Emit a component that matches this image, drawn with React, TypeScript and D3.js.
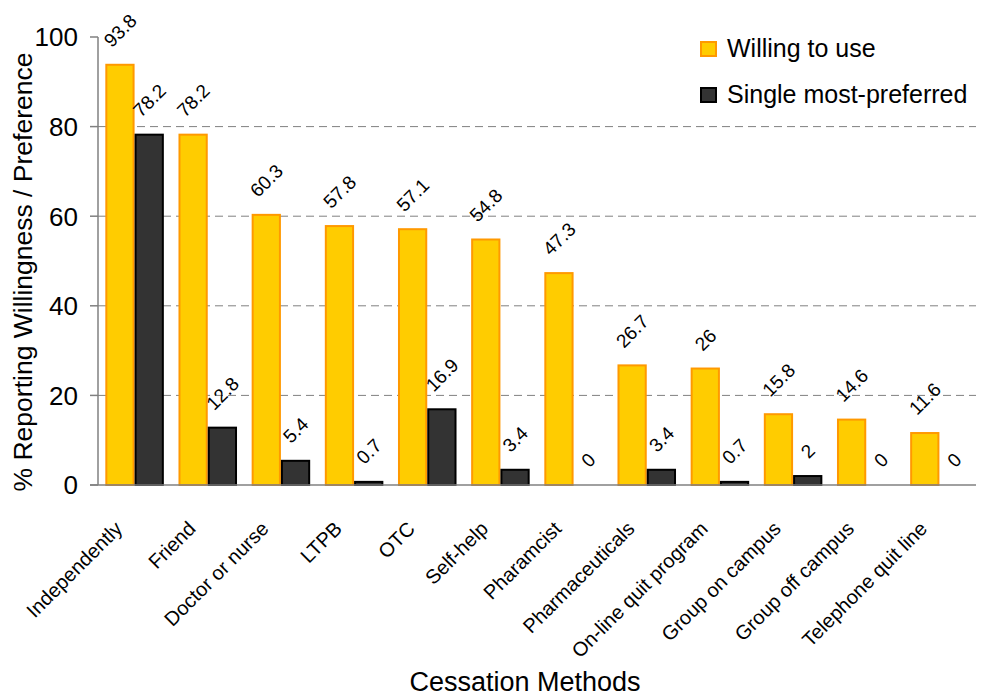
import React from "react";
import * as d3 from "d3";

const categories = [
  "Independently",
  "Friend",
  "Doctor or nurse",
  "LTPB",
  "OTC",
  "Self-help",
  "Pharamcist",
  "Pharmaceuticals",
  "On-line quit program",
  "Group on campus",
  "Group off campus",
  "Telephone quit line",
];
const willingToUse = [93.8, 78.2, 60.3, 57.8, 57.1, 54.8, 47.3, 26.7, 26, 15.8, 14.6, 11.6];
const singleMostPreferred = [78.2, 12.8, 5.4, 0.7, 16.9, 3.4, 0, 3.4, 0.7, 2, 0, 0];
const seriesNames = ["Willing to use", "Single most-preferred"];
const yTicks = [0, 20, 40, 60, 80, 100];

const W = 982;
const H = 698;
const FONT = "'Liberation Sans', Arial, Helvetica, sans-serif";
const YELLOW = "#FFCC00";
const YELLOW_STROKE = "#FF9900";
const DARK = "#333333";
const DARK_STROKE = "#000000";

// approximate Arial advance widths for label layout
const charW = (c: string) => {
  if (c === ".") return 0.278;
  if (/[0-9]/.test(c)) return 0.556;
  return 0.5;
};
const textLen = (s: string, f: number) => s.split("").reduce((a, c) => a + charW(c), 0) * f;

export default function App() {
  const left = 98;
  const right = 976;
  const y0 = 485;
  const y100 = 37;

  const x = d3.scaleBand<string>().domain(categories).range([left, right]).paddingInner(0.2).paddingOuter(0.1);
  const inner = d3.scaleBand<string>().domain(["w", "p"]).range([0, x.bandwidth()]).padding(0);
  const y = d3.scaleLinear().domain([0, 100]).range([y0, y100]);

  const valFont = 19;
  const labelFor = (v: number, cx: number) => {
    const s = String(v);
    const L = textLen(s, valFont);
    const boxH = 0.707 * (L + 0.72 * valFont);
    const cy = y(v) - 16.5 - boxH / 2;
    return (
      <text
        key={"l" + cx}
        transform={`translate(${cx},${cy}) rotate(-45)`}
        textAnchor="middle"
        dy="0.36em"
        fontSize={valFont}
        fontFamily={FONT}
        fill="#000"
      >
        {s}
      </text>
    );
  };

  return (
    <svg
      width={W}
      height={H}
      style={{ position: "absolute", left: 0, top: 0, background: "#fff" }}
      fontFamily={FONT}
    >
      {/* gridlines */}
      {yTicks.filter((t) => t > 0 && t < 100).map((t) => (
        <line
          key={"g" + t}
          x1={left}
          x2={right}
          y1={y(t)}
          y2={y(t)}
          stroke="#808080"
          strokeWidth={1}
          strokeDasharray="8,5"
        />
      ))}
      {/* y axis */}
      <line x1={left} x2={left} y1={y(0)} y2={y(100)} stroke="#808080" strokeWidth={1.5} />
      {yTicks.map((t) => (
        <g key={"t" + t}>
          <line x1={left - 8} x2={left} y1={y(t)} y2={y(t)} stroke="#808080" strokeWidth={1.5} />
          <text x={78} y={y(t)} dy="0.36em" textAnchor="end" fontSize={26} fill="#000">
            {t}
          </text>
        </g>
      ))}
      {/* bars */}
      {categories.map((c, i) => {
        const bx = x(c)!;
        const wv = willingToUse[i];
        const pv = singleMostPreferred[i];
        const wx = bx + inner("w")!;
        const px = bx + inner("p")!;
        const bw = inner.bandwidth();
        return (
          <g key={c}>
            {wv > 0 && (
              <rect
                x={wx + 1}
                y={y(wv)}
                width={bw - 2}
                height={y(0) - y(wv)}
                fill={YELLOW}
                stroke={YELLOW_STROKE}
                strokeWidth={2}
              />
            )}
            {pv > 0 && (
              <rect
                x={px + 1}
                y={y(pv)}
                width={bw - 2}
                height={Math.max(0, y(0) - y(pv))}
                fill={DARK}
                stroke={DARK_STROKE}
                strokeWidth={2}
              />
            )}
          </g>
        );
      })}
      {/* x axis */}
      <line x1={left - 8} x2={right} y1={y(0)} y2={y(0)} stroke="#808080" strokeWidth={1.5} />
      {/* value labels */}
      {categories.map((c, i) => {
        const bx = x(c)!;
        const bw = inner.bandwidth();
        return (
          <g key={"v" + c}>
            {labelFor(willingToUse[i], bx + inner("w")! + bw / 2)}
            {labelFor(singleMostPreferred[i], bx + inner("p")! + bw / 2)}
          </g>
        );
      })}
      {/* category labels */}
      {categories.map((c) => {
        const cx = x(c)! + x.bandwidth() / 2;
        return (
          <text
            key={"c" + c}
            transform={`translate(${cx - 11},${530}) rotate(-45)`}
            textAnchor="end"
            fontSize={20}
            fill="#000"
          >
            {c}
          </text>
        );
      })}
      {/* axis titles */}
      <text transform="translate(32,272) rotate(-90)" textAnchor="middle" fontSize={26.5} fill="#000">
        % Reporting Willingness / Preference
      </text>
      <text x={525} y={691} textAnchor="middle" fontSize={27} fill="#000">
        Cessation Methods
      </text>
      {/* legend */}
      <rect x={701} y={42} width={15} height={14} fill={YELLOW} stroke={YELLOW_STROKE} strokeWidth={2} />
      <text x={727} y={57} fontSize={25} fill="#000">
        {seriesNames[0]}
      </text>
      <rect x={701} y={88} width={15} height={14} fill={DARK} stroke={DARK_STROKE} strokeWidth={2} />
      <text x={727} y={103} fontSize={25} fill="#000">
        {seriesNames[1]}
      </text>
    </svg>
  );
}
